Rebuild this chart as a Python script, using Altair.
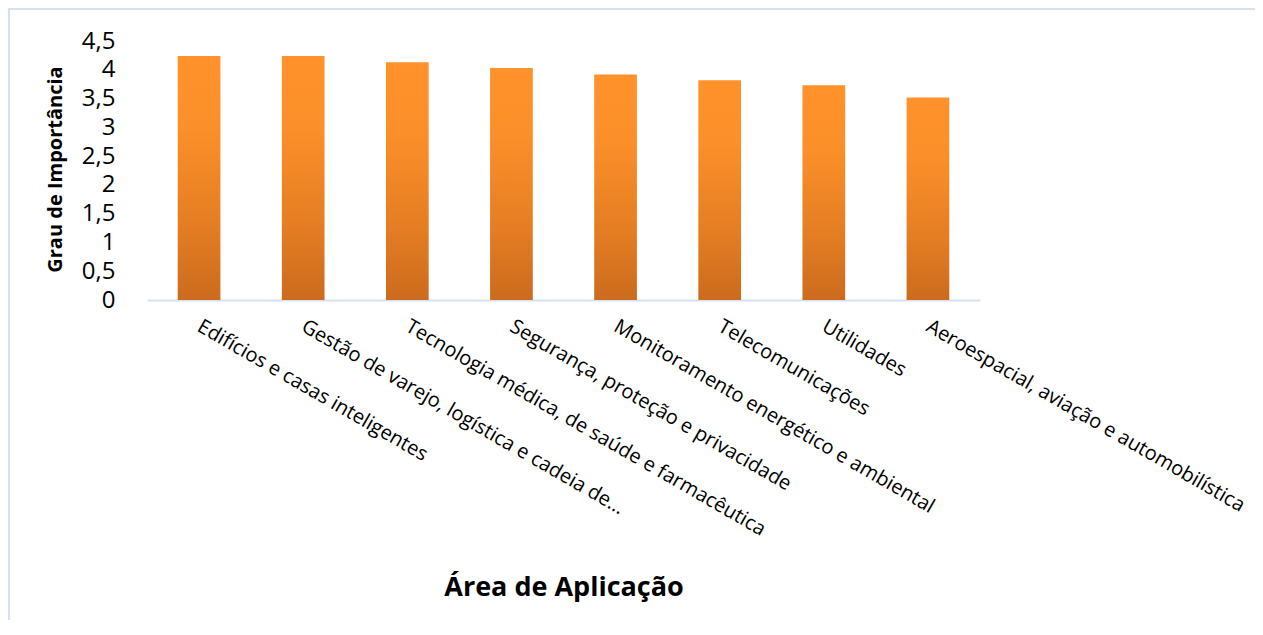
import altair as alt
import pandas as pd

categories = [
    "Edifícios e casas inteligentes",
    "Gestão de varejo, logística e cadeia de…",
    "Tecnologia médica, de saúde e farmacêutica",
    "Segurança, proteção e privacidade",
    "Monitoramento energético e ambiental",
    "Telecomunicações",
    "Utilidades",
    "Aeroespacial, aviação e automobilística",
]
values = [4.24, 4.24, 4.13, 4.03, 3.92, 3.82, 3.73, 3.52]
y_ticks = [0, 0.5, 1, 1.5, 2, 2.5, 3, 3.5, 4, 4.5]

df = pd.DataFrame({"area": categories, "grau": values})
frame_df = pd.DataFrame({"k": [0]})

FONT = "Open Sans"
FRAME = "#D6E2F3"

grad = alt.Gradient(
    gradient="linear",
    x1=0, y1=0, x2=0, y2=1,
    stops=[
        alt.GradientStop(color="#FF922A", offset=0),
        alt.GradientStop(color="#FB8F29", offset=0.3),
        alt.GradientStop(color="#E47D23", offset=0.7),
        alt.GradientStop(color="#CC6B1E", offset=1),
    ],
)

bars = alt.Chart(df).mark_bar(color=grad).encode(
    x=alt.X(
        "area:N",
        sort=None,
        scale=alt.Scale(paddingInner=0.59, paddingOuter=0.295),
        axis=alt.Axis(
            title="Área de Aplicação",
            titleFont=FONT,
            titleFontSize=27,
            titleFontWeight="bold",
            titleColor="#000000",
            titleY=287,
            titleBaseline="middle",
            labelAngle=30,
            labelAlign="left",
            labelBaseline="top",
            labelFont=FONT,
            labelFontSize=20,
            labelColor="#000000",
            labelPadding=16,
            labelOffset=5,
            labelLimit=0,
            ticks=False,
            domainColor=FRAME,
            domainWidth=2,
            grid=False,
        ),
    ),
    y=alt.Y(
        "grau:Q",
        scale=alt.Scale(domain=[0, 4.5], nice=False),
        axis=alt.Axis(
            title="Grau de Importância",
            titleFont=FONT,
            titleFontSize=20,
            titleFontWeight="bold",
            titleColor="#000000",
            titleAngle=270,
            titleX=-92,
            titleY=128,
            titleAlign="center",
            titleBaseline="middle",
            values=y_ticks,
            labelExpr="replace(format(datum.value, '.1~f'), '.', ',')",
            labelFont=FONT,
            labelFontSize=24,
            labelColor="#000000",
            labelPadding=32,
            labelBaseline="middle",
            ticks=False,
            domain=False,
            grid=False,
        ),
    ),
)

# thin light-blue chart-area border (left and top edges), as filled strips
frame_left = alt.Chart(frame_df).mark_rect(color=FRAME, strokeWidth=0).encode(
    x=alt.value(-139), x2=alt.value(-137), y=alt.value(-33), y2=alt.value(612)
)
frame_top = alt.Chart(frame_df).mark_rect(color=FRAME, strokeWidth=0).encode(
    x=alt.value(-139), x2=alt.value(1108), y=alt.value(-33), y2=alt.value(-31)
)

chart = alt.layer(frame_left, frame_top, bars).properties(
    width=833,
    height=259,
    autosize=alt.AutoSizeParams(type="none"),
    padding={"left": 139, "top": 33, "right": 275, "bottom": 320},
).configure_view(stroke=None)

chart.save("out.html", embed_options={"renderer": "svg", "actions": False})
